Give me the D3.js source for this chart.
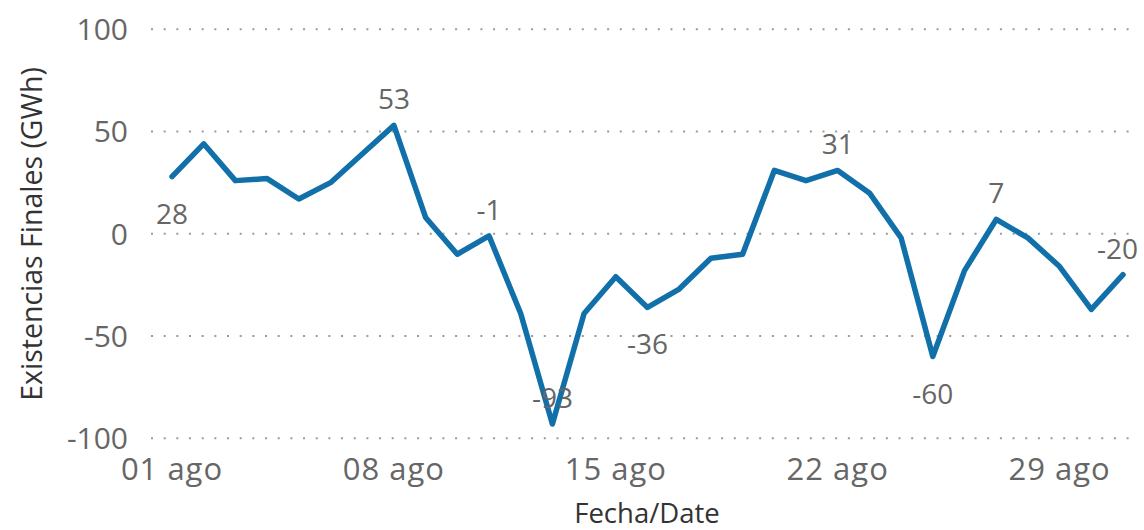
<!DOCTYPE html>
<meta charset="utf-8">
<script src="https://d3js.org/d3.v7.min.js"></script>
<style>
  body { margin: 0; background: #fff; }
  text { font-family: "Open Sans", "Noto Sans", sans-serif; }
</style>
<div id="my_dataviz"></div>
<script>

// data: one value per day of August
var days = [1, 2, 3, 4, 5, 6, 7, 8, 9, 10, 11, 12, 13, 14, 15, 16,
            17, 18, 19, 20, 21, 22, 23, 24, 25, 26, 27, 28, 29, 30, 31];
var values = [28, 44, 26, 27, 17, 25, 39, 53, 8, -10, -1, -39, -93, -39, -21, -36,
              -27, -12, -10, 31, 26, 31, 20, -2, -60, -18, 7, -2, -16, -37, -20];
var yTicks = [100, 50, 0, -50, -100];
var xTickDays = [1, 8, 15, 22, 29];
var xTickLabels = ["01 ago", "08 ago", "15 ago", "22 ago", "29 ago"];

// days that carry a data label, and whether the label sits under the point
var labelled = [1, 8, 11, 13, 16, 22, 25, 27, 31];
var labelBelow = [1, 16, 25];

var width = 1144, height = 530;

var svg = d3.select("#my_dataviz")
  .append("svg")
    .attr("width", width)
    .attr("height", height);

var x = d3.scaleLinear()
  .domain([1, 31])
  .range([172, 1123]);

var y = d3.scaleLinear()
  .domain([-100, 100])
  .range([438.3, 29.3]);

// dotted gridlines
svg.append("g")
  .selectAll("line")
  .data(yTicks)
  .enter()
  .append("line")
    .attr("x1", 151)
    .attr("x2", 1135)
    .attr("y1", function(d) { return y(d); })
    .attr("y2", function(d) { return y(d); })
    .attr("stroke", "#9a9a9a")
    .attr("stroke-width", 2)
    .attr("stroke-dasharray", "2,10.67");

// Y axis labels
svg.append("g")
  .selectAll("text")
  .data(yTicks)
  .enter()
  .append("text")
    .attr("x", 128)
    .attr("y", function(d) { return y(d); })
    .attr("dy", "0.36em")
    .attr("text-anchor", "end")
    .attr("font-size", 30)
    .attr("fill", "#666666")
    .text(function(d) { return d; });

// X axis labels
svg.append("g")
  .selectAll("text")
  .data(xTickDays)
  .enter()
  .append("text")
    .attr("x", function(d) { return x(d); })
    .attr("y", 480)
    .attr("text-anchor", "middle")
    .attr("font-size", 31)
    .attr("letter-spacing", 1)
    .attr("fill", "#666666")
    .text(function(d, i) { return xTickLabels[i]; });

// axis titles
svg.append("text")
  .attr("transform", "translate(42,234) rotate(-90)")
  .attr("text-anchor", "middle")
  .attr("font-family", "Liberation Sans, Arial, sans-serif")
  .attr("font-size", 28.5)
  .attr("fill", "#333333")
  .text("Existencias Finales (GWh)");

svg.append("text")
  .attr("x", 647)
  .attr("y", 523)
  .attr("text-anchor", "middle")
  .attr("font-family", "Liberation Sans, Arial, sans-serif")
  .attr("font-size", 27.5)
  .attr("fill", "#333333")
  .text("Fecha/Date");

// the line
var data = days.map(function(d, i) { return {day: d, value: values[i]}; });

svg.append("path")
  .datum(data)
  .attr("fill", "none")
  .attr("stroke", "#1170aa")
  .attr("stroke-width", 5.5)
  .attr("stroke-linejoin", "round")
  .attr("stroke-linecap", "round")
  .attr("d", d3.line()
    .x(function(d) { return x(d.day); })
    .y(function(d) { return y(d.value); }));

// data labels
var lab = svg.append("g")
  .selectAll("text")
  .data(data.filter(function(d) { return labelled.indexOf(d.day) >= 0; }))
  .enter()
  .append("text")
    .attr("x", function(d) { return x(d.day); })
    .attr("y", function(d) {
      return labelBelow.indexOf(d.day) >= 0 ? y(d.value) + 47 : y(d.value) - 16; })
    .attr("text-anchor", "middle")
    .attr("font-size", 28)
    .attr("fill", "#666666")
    .text(function(d) { return d.value; });

// keep labels inside the right edge
lab.each(function(d) {
  var w = this.getComputedTextLength();
  var cx = x(d.day);
  if (cx + w / 2 > 1138) d3.select(this).attr("x", 1138 - w / 2);
});

</script>
